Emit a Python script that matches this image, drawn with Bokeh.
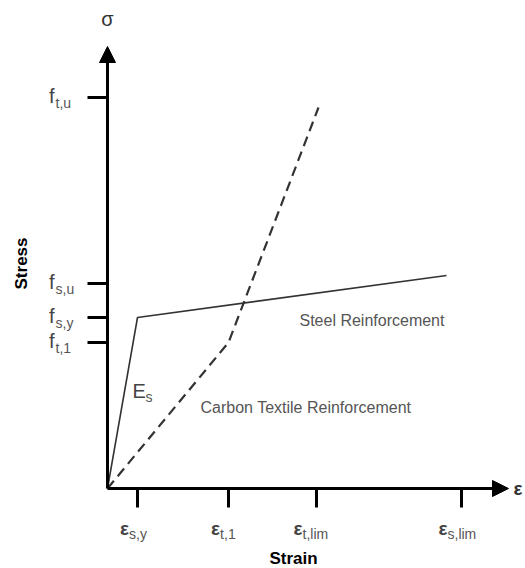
from bokeh.plotting import figure
from bokeh.models import Range1d, Arrow, NormalHead, ColumnDataSource
from bokeh.core.properties import value
from bokeh.embed import file_html
from bokeh.resources import INLINE
import math

# --- data (arbitrary units) ---
strain_ticks = [3.0, 12.1, 20.9, 35.4]
strain_tick_main = ["ε", "ε", "ε", "ε"]
strain_tick_sub = ["s,y", "t,1", "t,lim", "s,lim"]

stress_ticks = [39.1, 20.5, 17.1, 14.6]
stress_tick_main = ["f", "f", "f", "f"]
stress_tick_sub = ["t,u", "s,u", "s,y", "t,1"]

steel_strain = [0.0, 3.0, 33.9]
steel_stress = [0.0, 17.1, 21.3]

carbon_strain = [0.0, 12.1, 21.1]
carbon_stress = [0.0, 14.6, 38.1]

FONT = value("Liberation Sans")

p = figure(width=525, height=568, output_backend="svg", toolbar_location=None,
           x_range=Range1d(-10.7, 41.8), y_range=Range1d(-8.0, 48.8),
           min_border=0, outline_line_color=None)
p.axis.visible = False
p.grid.visible = False
p.background_fill_color = "white"
p.border_fill_color = "white"

# curves
p.line(steel_strain, steel_stress, line_color="#333333", line_width=1.6)
p.line(carbon_strain, carbon_stress, line_color="#333333", line_width=2.2,
       line_dash="10 6")

# axes with arrows
p.add_layout(Arrow(end=NormalHead(size=16, fill_color="black", line_color="black"),
                   x_start=0, y_start=0, x_end=0, y_end=44.2,
                   line_color="black", line_width=3))
p.add_layout(Arrow(end=NormalHead(size=16, fill_color="black", line_color="black"),
                   x_start=0, y_start=0, x_end=40.1, y_end=0,
                   line_color="black", line_width=3))

# tick marks
p.segment(x0=[-2.0] * len(stress_ticks), y0=stress_ticks,
          x1=[0] * len(stress_ticks), y1=stress_ticks,
          line_color="black", line_width=3)
p.segment(x0=strain_ticks, y0=[0] * len(strain_ticks),
          x1=strain_ticks, y1=[-1.9] * len(strain_ticks),
          line_color="black", line_width=3)

# stress tick labels
ys = ColumnDataSource(dict(x=[-5.3] * len(stress_ticks), y=stress_ticks,
                           m=stress_tick_main, s=stress_tick_sub))
p.text(x="x", y="y", text="m", source=ys, text_font=FONT, text_font_size="20px",
       text_color="#444444", text_align="right", text_baseline="middle", y_offset=-2)
p.text(x="x", y="y", text="s", source=ys, text_font=FONT, text_font_size="14px",
       text_color="#555555", text_align="left", text_baseline="middle",
       x_offset=1, y_offset=5)

# strain tick labels
xo = [-2.8 * len(s) for s in strain_tick_sub]
xs = ColumnDataSource(dict(x=strain_ticks, y=[0] * len(strain_ticks),
                           m=strain_tick_main, s=strain_tick_sub, o=xo))
p.text(x="x", y="y", text="m", source=xs, text_font=FONT, text_font_size="19px",
       text_font_style="bold", text_color="#444444", text_align="right",
       text_baseline="middle", x_offset="o", y_offset=40)
p.text(x="x", y="y", text="s", source=xs, text_font=FONT, text_font_size="14px",
       text_color="#555555", text_align="left", text_baseline="middle",
       x_offset="o", y_offset=45)

# axis symbols
p.text(x=[0], y=[47.0], text=["σ"], text_font=FONT, text_font_size="20px",
       text_color="#333333", text_align="center", text_baseline="middle")
p.text(x=[40.6], y=[0], text=["ε"], text_font=FONT, text_font_size="19px",
       text_font_style="bold", text_color="#333333", text_align="left",
       text_baseline="middle")

# axis titles
p.text(x=[-8.6], y=[22.5], text=["Stress"], text_font=FONT, text_font_size="17px",
       text_font_style="bold", text_color="black", text_align="center",
       text_baseline="middle", angle=math.pi / 2)
p.text(x=[18.6], y=[-7.0], text=["Strain"], text_font=FONT, text_font_size="17px",
       text_font_style="bold", text_color="black", text_align="center",
       text_baseline="middle")

# E_s
p.text(x=[2.5], y=[9.8], text=["E"], text_font=FONT, text_font_size="20px",
       text_color="#444444", text_align="left", text_baseline="middle")
p.text(x=[3.8], y=[9.8], text=["s"], text_font=FONT, text_font_size="14px",
       text_color="#555555", text_align="left", text_baseline="middle", y_offset=6)

# annotations
p.text(x=[19.2], y=[16.8], text=["Steel Reinforcement"], text_font=FONT,
       text_font_size="16px", text_color="#555555", text_align="left",
       text_baseline="middle")
p.text(x=[9.3], y=[8.1], text=["Carbon Textile Reinforcement"], text_font=FONT,
       text_font_size="16px", text_color="#555555", text_align="left",
       text_baseline="middle")

open("out.html", "w").write(file_html(p, INLINE))
